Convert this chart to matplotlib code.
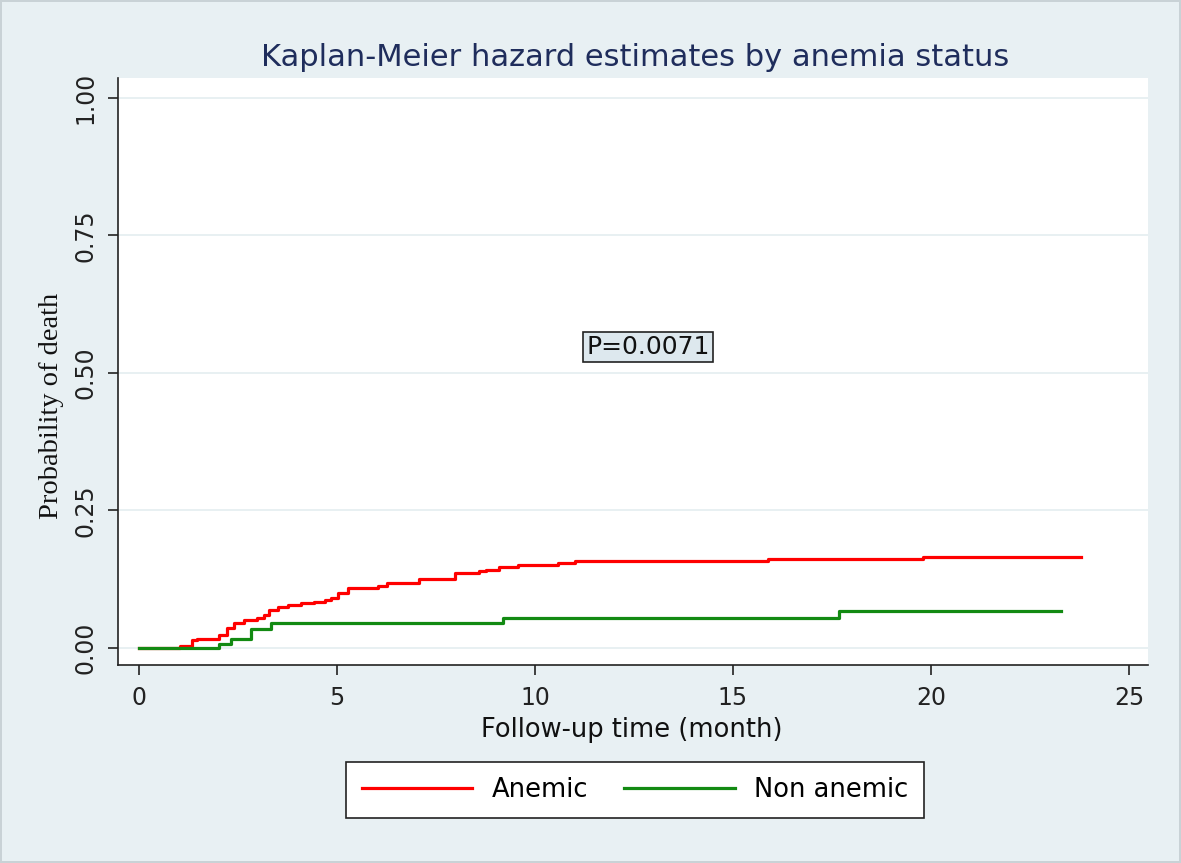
import matplotlib
matplotlib.use("Agg")
import matplotlib.pyplot as plt
from matplotlib.lines import Line2D

# ---- data ----
anemic_time = [0, 1.04, 1.34, 1.47, 2.02, 2.23, 2.40, 2.65, 2.99, 3.16, 3.29, 3.50, 3.76,
               4.09, 4.43, 4.69, 4.86, 5.03, 5.28, 6.04, 6.26, 7.06, 7.99, 8.59, 8.76,
               9.09, 9.57, 10.58, 11.01, 15.89, 19.81, 23.8]
anemic_prob = [0, 0.003, 0.014, 0.017, 0.023, 0.037, 0.045, 0.051, 0.054, 0.060, 0.069,
               0.075, 0.078, 0.081, 0.084, 0.087, 0.090, 0.099, 0.109, 0.112, 0.118,
               0.125, 0.136, 0.139, 0.142, 0.148, 0.151, 0.155, 0.158, 0.161, 0.166, 0.166]
nonanemic_time = [0, 2.02, 2.32, 2.82, 3.33, 9.2, 17.68, 23.28]
nonanemic_prob = [0, 0.008, 0.017, 0.035, 0.046, 0.055, 0.068, 0.068]

x_ticks = [0, 5, 10, 15, 20, 25]
y_ticks = [0.00, 0.25, 0.50, 0.75, 1.00]
y_tick_labels = ["0.00", "0.25", "0.50", "0.75", "1.00"]
series_labels = ["Anemic", "Non anemic"]
title = "Kaplan-Meier hazard estimates by anemia status"
p_text = "P=0.0071"

bg = "#e8f0f3"
red = "#ff0000"
green = "#128a12"

fig = plt.figure(figsize=(11.81, 8.63), dpi=100)
fig.patch.set_facecolor(bg)
fig.patch.set_edgecolor("#c9d2d6")
fig.patch.set_linewidth(1.5)

ax = fig.add_axes([118/1181, 1-665/863, (1148-118)/1181, (665-78)/863])
ax.set_facecolor("white")
ax.set_xlim(-0.53, 25.48)
ax.set_ylim(-0.031, 1.036)

for y in y_ticks:
    ax.axhline(y, color="#e4edf0", lw=1.2, zorder=0)

ax.step(anemic_time, anemic_prob, where="post", color=red, lw=2.3, zorder=3)
ax.step(nonanemic_time, nonanemic_prob, where="post", color=green, lw=2.3, zorder=3)

for s in ["top", "right"]:
    ax.spines[s].set_visible(False)
for s in ["left", "bottom"]:
    ax.spines[s].set_color("#222222")
    ax.spines[s].set_linewidth(1.2)

ax.set_xticks(x_ticks)
ax.set_xticklabels([str(v) for v in x_ticks], fontsize=17, color="#222222")
ax.set_yticks(y_ticks)
ax.set_yticklabels(y_tick_labels, fontsize=17, rotation=90, va="center", color="#222222")
ax.tick_params(axis="both", direction="out", length=7, width=1.2, color="#222222")
ax.tick_params(axis="x", pad=8)
ax.tick_params(axis="y", pad=8)

ax.set_xlabel("Follow-up time (month)", fontsize=18.5, color="#111111")
ax.xaxis.set_label_coords((632-118)/1030, (665-717)/587)
ax.set_ylabel("Probability of death", fontsize=20.5, family="Liberation Serif",
              color="#111111")
ax.yaxis.set_label_coords((64-118)/1030, (665-406)/587)

fig.text(635/1181, 1-57/863, title, fontsize=22, color="#1f2d5c",
         ha="center", va="center")

ax.text(12.85, 0.547, p_text, fontsize=18, ha="center", va="center", color="#111111",
        bbox=dict(boxstyle="square,pad=0.12", facecolor="#dde8ee", edgecolor="#222222", lw=1.2),
        zorder=5)

handles = [Line2D([], [], color=red, lw=2.3), Line2D([], [], color=green, lw=2.3)]
leg = fig.legend(handles, series_labels, loc="center", bbox_to_anchor=(635/1181, 1-790/863),
                 ncol=2, fontsize=18.5, frameon=True, fancybox=False, edgecolor="#222222",
                 handlelength=4.3, handletextpad=0.75, columnspacing=1.4,
                 borderpad=0.6, borderaxespad=0)
leg.get_frame().set_linewidth(1.2)
leg.get_frame().set_facecolor("white")
leg.get_frame().set_alpha(1)

fig.savefig("out.png", dpi=100, facecolor=fig.get_facecolor(), edgecolor=fig.get_edgecolor())
